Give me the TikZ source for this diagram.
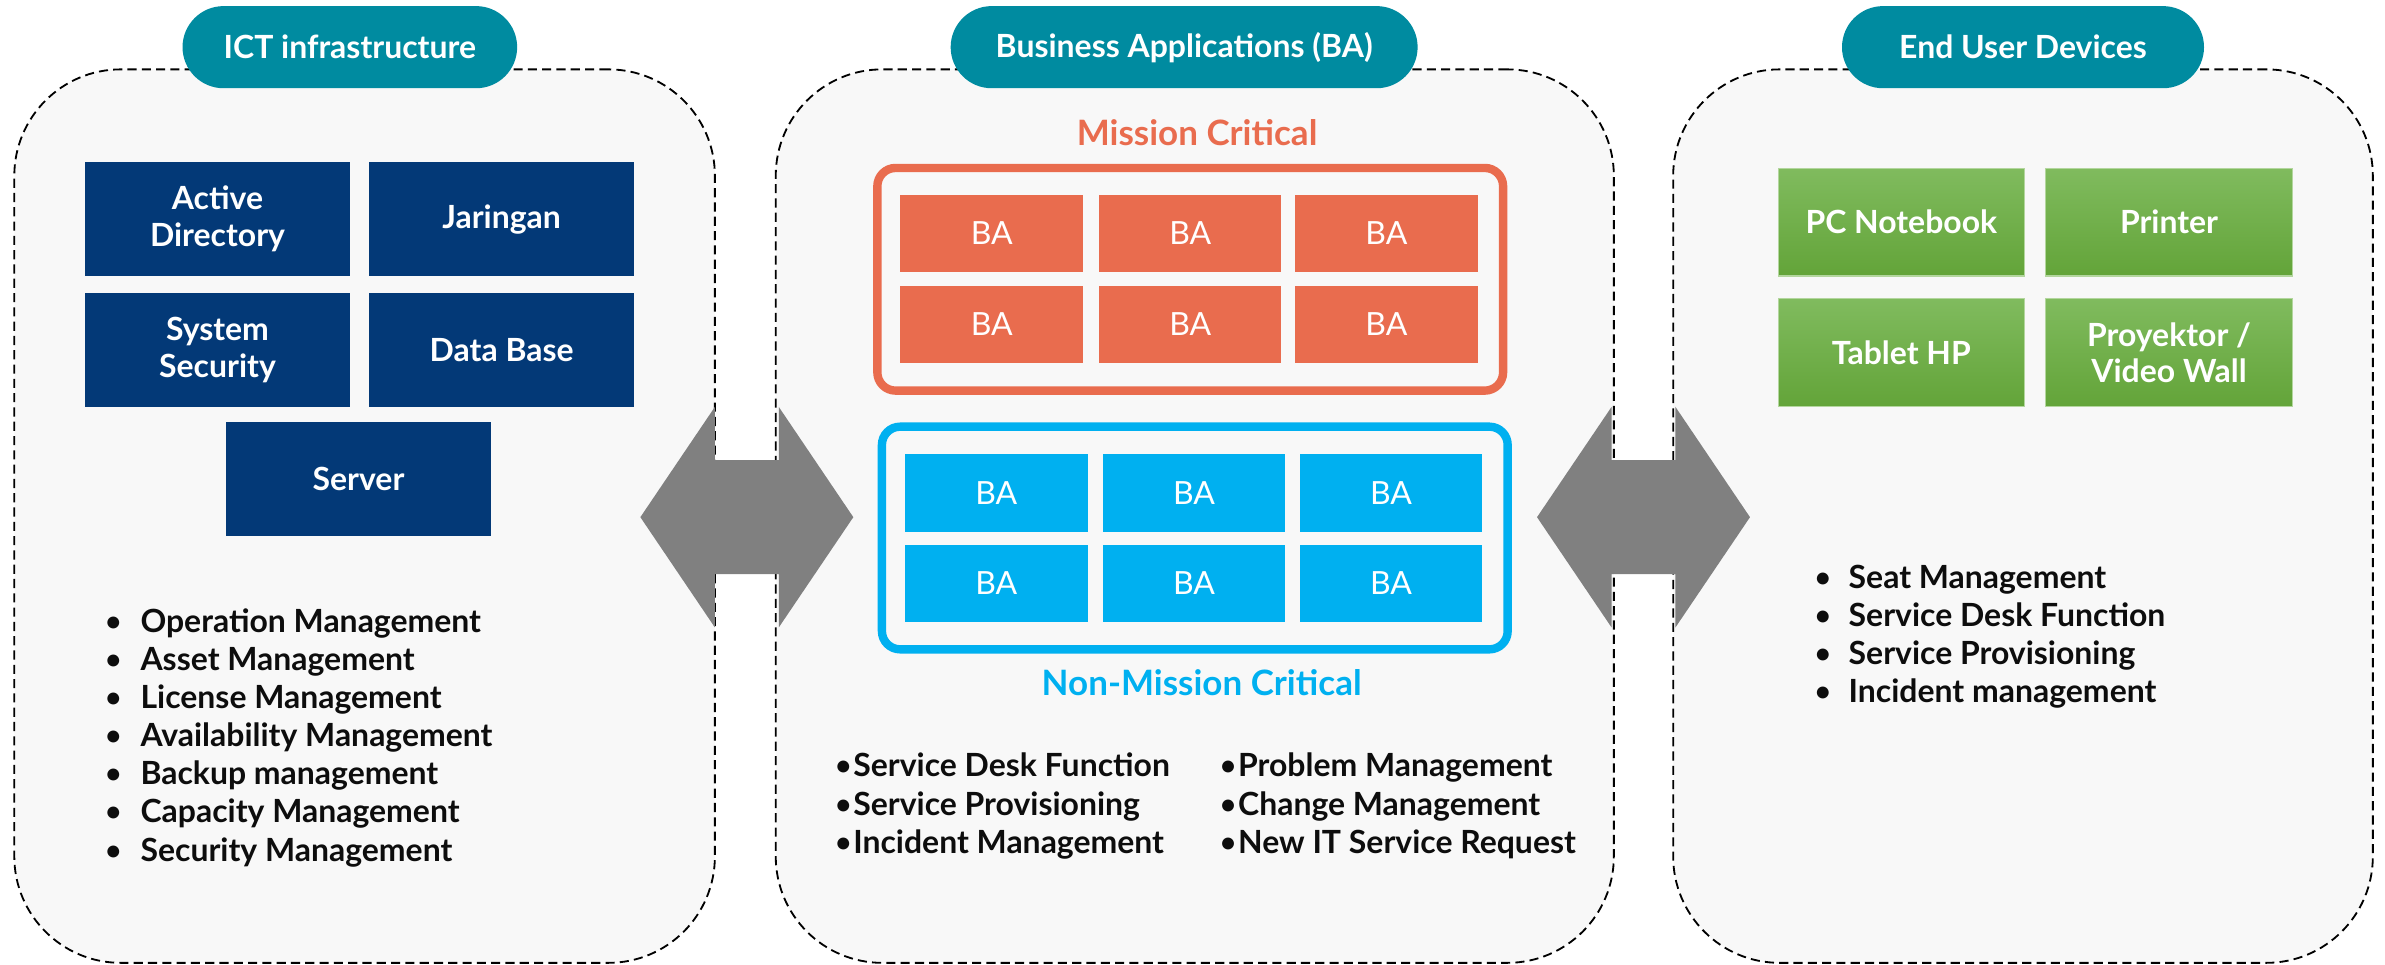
\documentclass[tikz,border=0pt]{standalone}
\usepackage{fontspec}
\setmainfont{Lato}
\usetikzlibrary{positioning}
\definecolor{pillteal}{RGB}{0,139,160}
\definecolor{infranavy}{RGB}{3,57,119}
\definecolor{critorange}{RGB}{233,108,78}
\definecolor{noncritblue}{RGB}{0,176,240}
\definecolor{devtop}{RGB}{128,187,94}
\definecolor{devbottom}{RGB}{99,164,57}
\definecolor{panelgrey}{RGB}{248,248,248}
\definecolor{arrowgrey}{RGB}{128,128,128}
\newcommand{\dotmark}[1]{\makebox[#1][l]{\mdseries\textbullet}}
\tikzset{
  panel/.style={draw=black, fill=panelgrey, line width=0.6pt, dash pattern=on 3pt off 1.7pt,
    rounded corners=35pt, minimum width=230pt, minimum height=293.7pt, inner sep=0pt},
  pill/.style={fill=pillteal, text=white, rounded corners=13.5pt, minimum height=27pt,
    inner sep=0pt, font=\fontsize{10.5}{12}\selectfont\bfseries},
  infra/.style={fill=infranavy, text=white, minimum width=87pt, minimum height=37.5pt,
    inner sep=0pt, align=center, font=\fontsize{10.5}{12}\selectfont\bfseries},
  ba/.style={text=white, minimum width=60pt, minimum height=25.5pt, inner sep=0pt,
    font=\fontsize{10.5}{12}\selectfont},
  frame/.style={line width=2.75pt, rounded corners=6pt, minimum width=205.7pt,
    minimum height=73.2pt, inner sep=0pt},
  device/.style={top color=devtop, bottom color=devbottom, draw=devtop!60!white, line width=0.4pt,
    text=white, minimum width=81pt, minimum height=35.4pt, inner sep=0pt, align=center,
    font=\fontsize{10.5}{12}\selectfont\bfseries},
  group/.style={inner sep=0pt, font=\fontsize{11.5}{13}\selectfont\bfseries},
  item/.style={anchor=base west, inner sep=0pt, text=black!95, font=\fontsize{10.5}{12}\selectfont\bfseries},
  biarrow/.style={fill=arrowgrey}
}

\begin{document}
\begin{tikzpicture}[x=0.5pt,y=-0.5pt]
  \useasboundingbox (0,0) rectangle (1568,634);
  % the three areas
  \node[panel, minimum width=230.3pt] (ictpanel) at (239.7,339.3) {};
  \node[panel, minimum width=275.5pt] (bapanel) at (785.5,339.3) {};
  \node[panel] (eudpanel) at (1330,339.3) {};

  % block arrows between the areas
  \coordinate (leftgap) at (491,340);
  \coordinate (rightgap) at (1080.5,340);
  \foreach \ax in {491,1080.5}
    \fill[biarrow] (\ax-70,340) -- (\ax-21,267.5) -- (\ax-21,302.5) -- (\ax+21,302.5)
      -- (\ax+21,267.5) -- (\ax+70,340) -- (\ax+21,412.5) -- (\ax+21,377.5)
      -- (\ax-21,377.5) -- (\ax-21,412.5) -- cycle;

  \node[pill, minimum width=110pt] (ictlabel) at (230,31) {ICT infrastructure};
  \node[pill, minimum width=153.5pt] (balabel) at (778.5,31) {Business Applications (BA)};
  \node[pill, minimum width=119pt] (eudlabel) at (1330,31) {End User Devices};

  % ICT infrastructure
  \node[infra] (actdir) at (143,144) {Active\\Directory};
  \node[infra] (jaringan) at (329.8,144) {Jaringan};
  \node[infra] (syssec) at (143,230) {System\\Security};
  \node[infra] (database) at (329.8,230) {Data Base};
  \node[infra] (server) at (235.7,315) {Server};
  \foreach \txt [count=\i] in {Operation Management, Asset Management, License Management,
      Availability Management, Backup management, Capacity Management, Security Management}
    \node[item] (ict\i) at (68,{415.5+25.1*(\i-1)}) {\dotmark{12pt}\txt};

  % business applications
  \node[group, text=critorange] (critlabel) at (787,87) {Mission Critical};
  \node[frame, draw=critorange] (critframe) at (782.5,183.6) {};
  \foreach \bx [count=\c] in {652,782.5,911.5}
    \foreach \by [count=\r] in {153.5,213.3}
      \node[ba, fill=critorange] (crit\r\c) at (\bx,\by) {BA};
  \node[frame, draw=noncritblue] (noncritframe) at (785.5,353.7) {};
  \foreach \bx [count=\c] in {655,785,914.5}
    \foreach \by [count=\r] in {324,383.6}
      \node[ba, fill=noncritblue] (noncrit\r\c) at (\bx,\by) {BA};
  \node[group, text=noncritblue] (noncritlabel) at (790,449) {Non-Mission Critical};
  \foreach \txt [count=\i] in {Service Desk Function, Service Provisioning, Incident Management}
    \node[item] (bal\i) at (548,{510.5+25.3*(\i-1)}) {\dotmark{6.3pt}\txt};
  \foreach \txt [count=\i] in {Problem Management, Change Management, New IT Service Request}
    \node[item] (bar\i) at (801,{510.5+25.3*(\i-1)}) {\dotmark{6.3pt}\txt};

  % end user devices
  \node[device] (pcnb) at (1250,146) {PC Notebook};
  \node[device] (printer) at (1426,146) {Printer};
  \node[device] (tablet) at (1250,231.8) {Tablet HP};
  \node[device] (proyektor) at (1426,231.8) {Proyektor /\\Video Wall};
  \foreach \txt [count=\i] in {Seat Management, Service Desk Function, Service Provisioning,
      Incident management}
    \node[item] (eud\i) at (1192,{387+25*(\i-1)}) {\dotmark{11.5pt}\txt};
\end{tikzpicture}
\end{document}
